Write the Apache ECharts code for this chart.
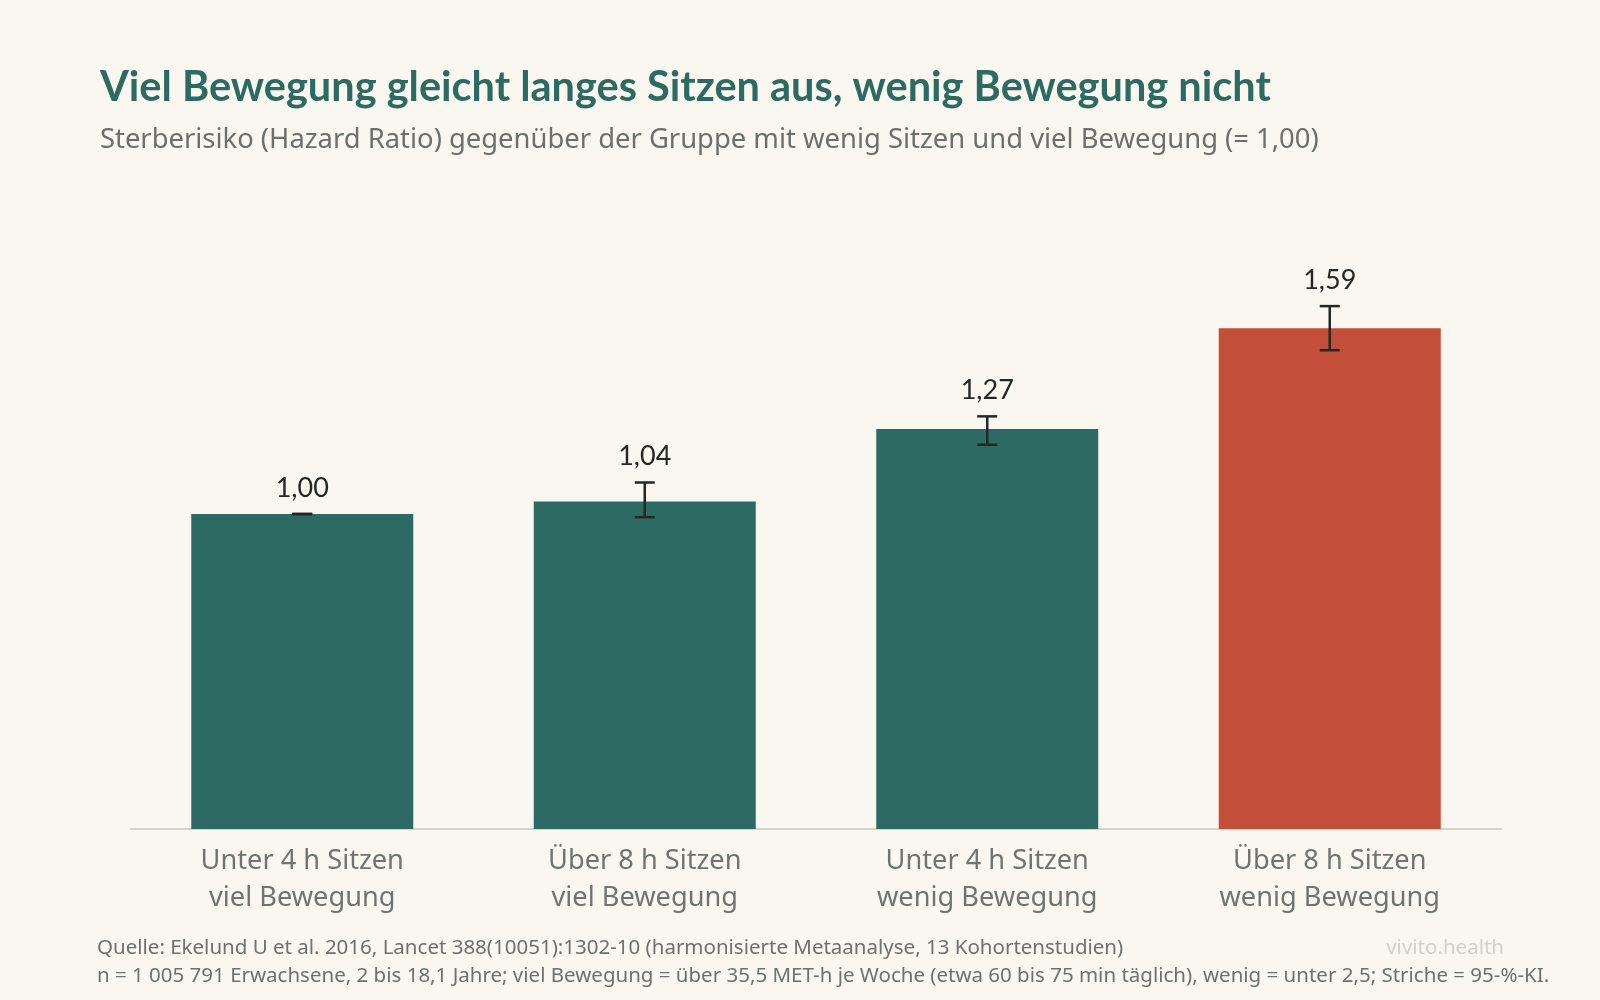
<!DOCTYPE html>
<html>
<head>
<meta charset="utf-8">
<script src="https://cdn.jsdelivr.net/npm/echarts@6/dist/echarts.min.js"></script>
<style>
html,body{margin:0;padding:0;background:#faf7f0;}
#chart{width:1600px;height:1000px;}
</style>
</head>
<body>
<div id="chart"></div>
<script>
const categories = ['Unter 4 h Sitzen\nviel Bewegung', 'Über 8 h Sitzen\nviel Bewegung', 'Unter 4 h Sitzen\nwenig Bewegung', 'Über 8 h Sitzen\nwenig Bewegung'];
const hazardRatio = [1.00, 1.04, 1.27, 1.59];
const ciLow = [1.00, 0.99, 1.22, 1.52];
const ciHigh = [1.00, 1.10, 1.31, 1.66];
const valueLabels = ['1,00', '1,04', '1,27', '1,59'];
const barColors = ['#2d6a63', '#2d6a63', '#2d6a63', '#c34f3a'];

const FONT_B = 'Lato';
const FONT = 'Noto Sans';
const chart = echarts.init(document.getElementById('chart'));

const barData = hazardRatio.map((v, i) => ({ value: v, itemStyle: { color: barColors[i] } }));
const errData = hazardRatio.map((v, i) => [i, ciLow[i], ciHigh[i], valueLabels[i]]);

chart.setOption({
  backgroundColor: '#faf7f0',
  animation: false,
  title: [
    { text: 'Viel Bewegung gleicht langes Sitzen aus, wenig Bewegung nicht', left: 95, top: 62,
      textStyle: { fontFamily: FONT_B, fontSize: 41.5, fontWeight: 'bold', color: '#2d6b62' } },
    { text: 'Sterberisiko (Hazard Ratio) gegenüber der Gruppe mit wenig Sitzen und viel Bewegung (= 1,00)', left: 95, top: 122,
      textStyle: { fontFamily: FONT, fontSize: 27.4, fontWeight: 'normal', color: '#6b706c' } }
  ],
  grid: { left: 131, right: 99, top: 199, bottom: 171 },
  xAxis: {
    type: 'category', data: categories,
    axisLine: { lineStyle: { color: '#d6d3c8', width: 2 } },
    axisTick: { show: false },
    axisLabel: { fontFamily: FONT, fontSize: 27.2, lineHeight: 37, color: '#6e7571', margin: 14 }
  },
  yAxis: { type: 'value', min: 0, max: 2, show: false, splitLine: { show: false } },
  series: [
    { type: 'bar', data: barData, barWidth: 222, silent: true },
    {
      type: 'custom', data: errData, z: 10, silent: true,
      renderItem: function (params, api) {
        const x = api.value(0);
        const lo = api.coord([x, api.value(1)]);
        const hi = api.coord([x, api.value(2)]);
        const cw = 10;
        const st = { stroke: '#222826', lineWidth: 2.5 };
        return {
          type: 'group',
          children: [
            { type: 'line', shape: { x1: hi[0], y1: hi[1], x2: lo[0], y2: lo[1] }, style: st },
            { type: 'line', shape: { x1: hi[0] - cw, y1: hi[1], x2: hi[0] + cw, y2: hi[1] }, style: st },
            { type: 'line', shape: { x1: lo[0] - cw, y1: lo[1], x2: lo[0] + cw, y2: lo[1] }, style: st },
            { type: 'text', x: hi[0], y: hi[1] - 26,
              style: { text: api.value(3), fontFamily: FONT_B, fontSize: 27, fill: '#222826', align: 'center', verticalAlign: 'middle' } }
          ]
        };
      }
    }
  ],
  graphic: [
    { type: 'text', left: 97, top: 938,
      style: { text: 'Quelle: Ekelund U et al. 2016, Lancet 388(10051):1302-10 (harmonisierte Metaanalyse, 13 Kohortenstudien)', fontFamily: FONT, fontSize: 20.5, fill: '#6b726f' } },
    { type: 'text', left: 97, top: 966,
      style: { text: 'n = 1 005 791 Erwachsene, 2 bis 18,1 Jahre; viel Bewegung = über 35,5 MET-h je Woche (etwa 60 bis 75 min täglich), wenig = unter 2,5; Striche = 95-%-KI.', fontFamily: FONT, fontSize: 20.5, fill: '#6b726f' } },
    { type: 'text', right: 96, top: 938,
      style: { text: 'vivito.health', fontFamily: FONT, fontSize: 20.5, fill: '#d3d0c7' } }
  ]
});
</script>
</body>
</html>
